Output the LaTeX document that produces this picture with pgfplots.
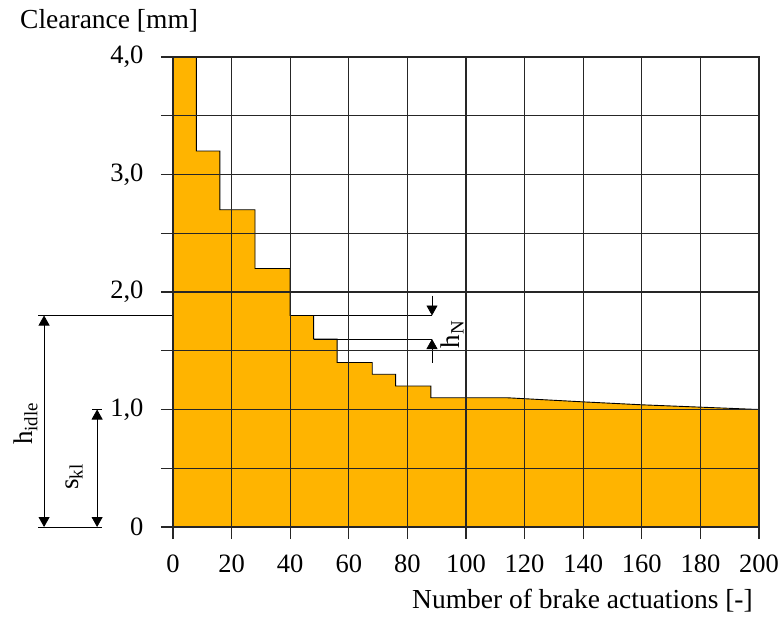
\documentclass[border=0pt]{standalone}
\usepackage{fontspec}
\setmainfont{Liberation Serif}
\usepackage{pgfplots}
\pgfplotsset{compat=1.18}
\usetikzlibrary{arrows.meta}
\definecolor{fillorange}{RGB}{255,180,0}
\tikzset{dimtip/.tip={Triangle[length=10pt,width=11pt]}}
\begin{document}
\begin{tikzpicture}
\begin{axis}[
  at={(0,0)}, anchor=south west,
  scale only axis, width=586pt, height=470pt,
  xmin=0, xmax=200, ymin=0, ymax=4,
  xtick={0,20,40,60,80,100,120,140,160,180,200},
  ytick={0,0.5,1,1.5,2,2.5,3,3.5,4},
  yticklabels={0,,{1,0},,{2,0},,{3,0},,{4,0}},
  grid=major,
  grid style={black!85, line width=1.1pt},
  axis line style={black!85, line width=1.1pt},
  tick style={black!85, line width=1.1pt},
  tick align=outside, major tick length=12pt,
  xtick pos=left, ytick pos=left,
  axis on top,
  clip=false,
  /pgf/number format/assume math mode=true,
  ticklabel style={font=\fontsize{26.5}{31}\selectfont},
  yticklabel style={xshift=-14pt},
  xticklabel style={yshift=-12pt},
]
\addplot[fill=fillorange, draw=black, line width=0.9pt] coordinates {
  (0,4.0) (8,4.0) (8,3.2) (16,3.2) (16,2.7) (28,2.7) (28,2.2) (40,2.2)
  (40,1.8) (48,1.8) (48,1.6) (56,1.6) (56,1.4) (68,1.4) (68,1.3) (76,1.3)
  (76,1.2) (88,1.2) (88,1.1) (114,1.1) (140,1.065) (160,1.04) (180,1.02)
  (200,1.0)
} \closedcycle;

% dimension lines
\draw[line width=0.8pt] (axis cs:-46,1.8) -- (axis cs:0,1.8);
\draw[line width=0.8pt] (axis cs:40,1.8) -- (axis cs:88.4,1.8);
\draw[line width=0.8pt] (axis cs:48,1.6) -- (axis cs:88.4,1.6);
\draw[line width=0.8pt] (axis cs:-46,0) -- (axis cs:-24.2,0);
\draw[line width=0.8pt] (axis cs:-27.6,1.0) -- (axis cs:-24.2,1.0);
\draw[line width=0.8pt, dimtip-dimtip] (axis cs:-44,1.8) -- (axis cs:-44,0);
\draw[line width=0.8pt, dimtip-dimtip] (axis cs:-25.9,1.0) -- (axis cs:-25.9,0);
\draw[line width=0.8pt, -dimtip] (axis cs:88.4,1.97) -- (axis cs:88.4,1.8);
\draw[line width=0.8pt, -dimtip] (axis cs:88.4,1.40) -- (axis cs:88.4,1.6);

% labels
\node[rotate=90, anchor=base west, inner sep=0, font=\fontsize{27}{32}\selectfont]
  at (axis cs:-47.8,0.698) {h\textsubscript{idle}};
\node[rotate=90, anchor=base west, inner sep=0, font=\fontsize{27}{32}\selectfont]
  at (axis cs:-32.4,0.315) {s\textsubscript{kl}};
\node[rotate=90, anchor=base west, inner sep=0, font=\fontsize{27}{32}\selectfont]
  at (axis cs:97.9,1.52) {h\textsubscript{N}};
\node[anchor=base west, inner sep=0, xshift=-153pt, yshift=29pt, font=\fontsize{27.5}{32}\selectfont]
  at (rel axis cs:0,1) {Clearance [mm]};
\node[anchor=base east, inner sep=0, xshift=-6pt, yshift=-81pt, font=\fontsize{27.5}{32}\selectfont]
  at (rel axis cs:1,0) {Number of brake actuations [-]};
\end{axis}
\pgfresetboundingbox
\useasboundingbox (-173pt,-92pt) rectangle (609pt,527pt);
\end{tikzpicture}
\end{document}
